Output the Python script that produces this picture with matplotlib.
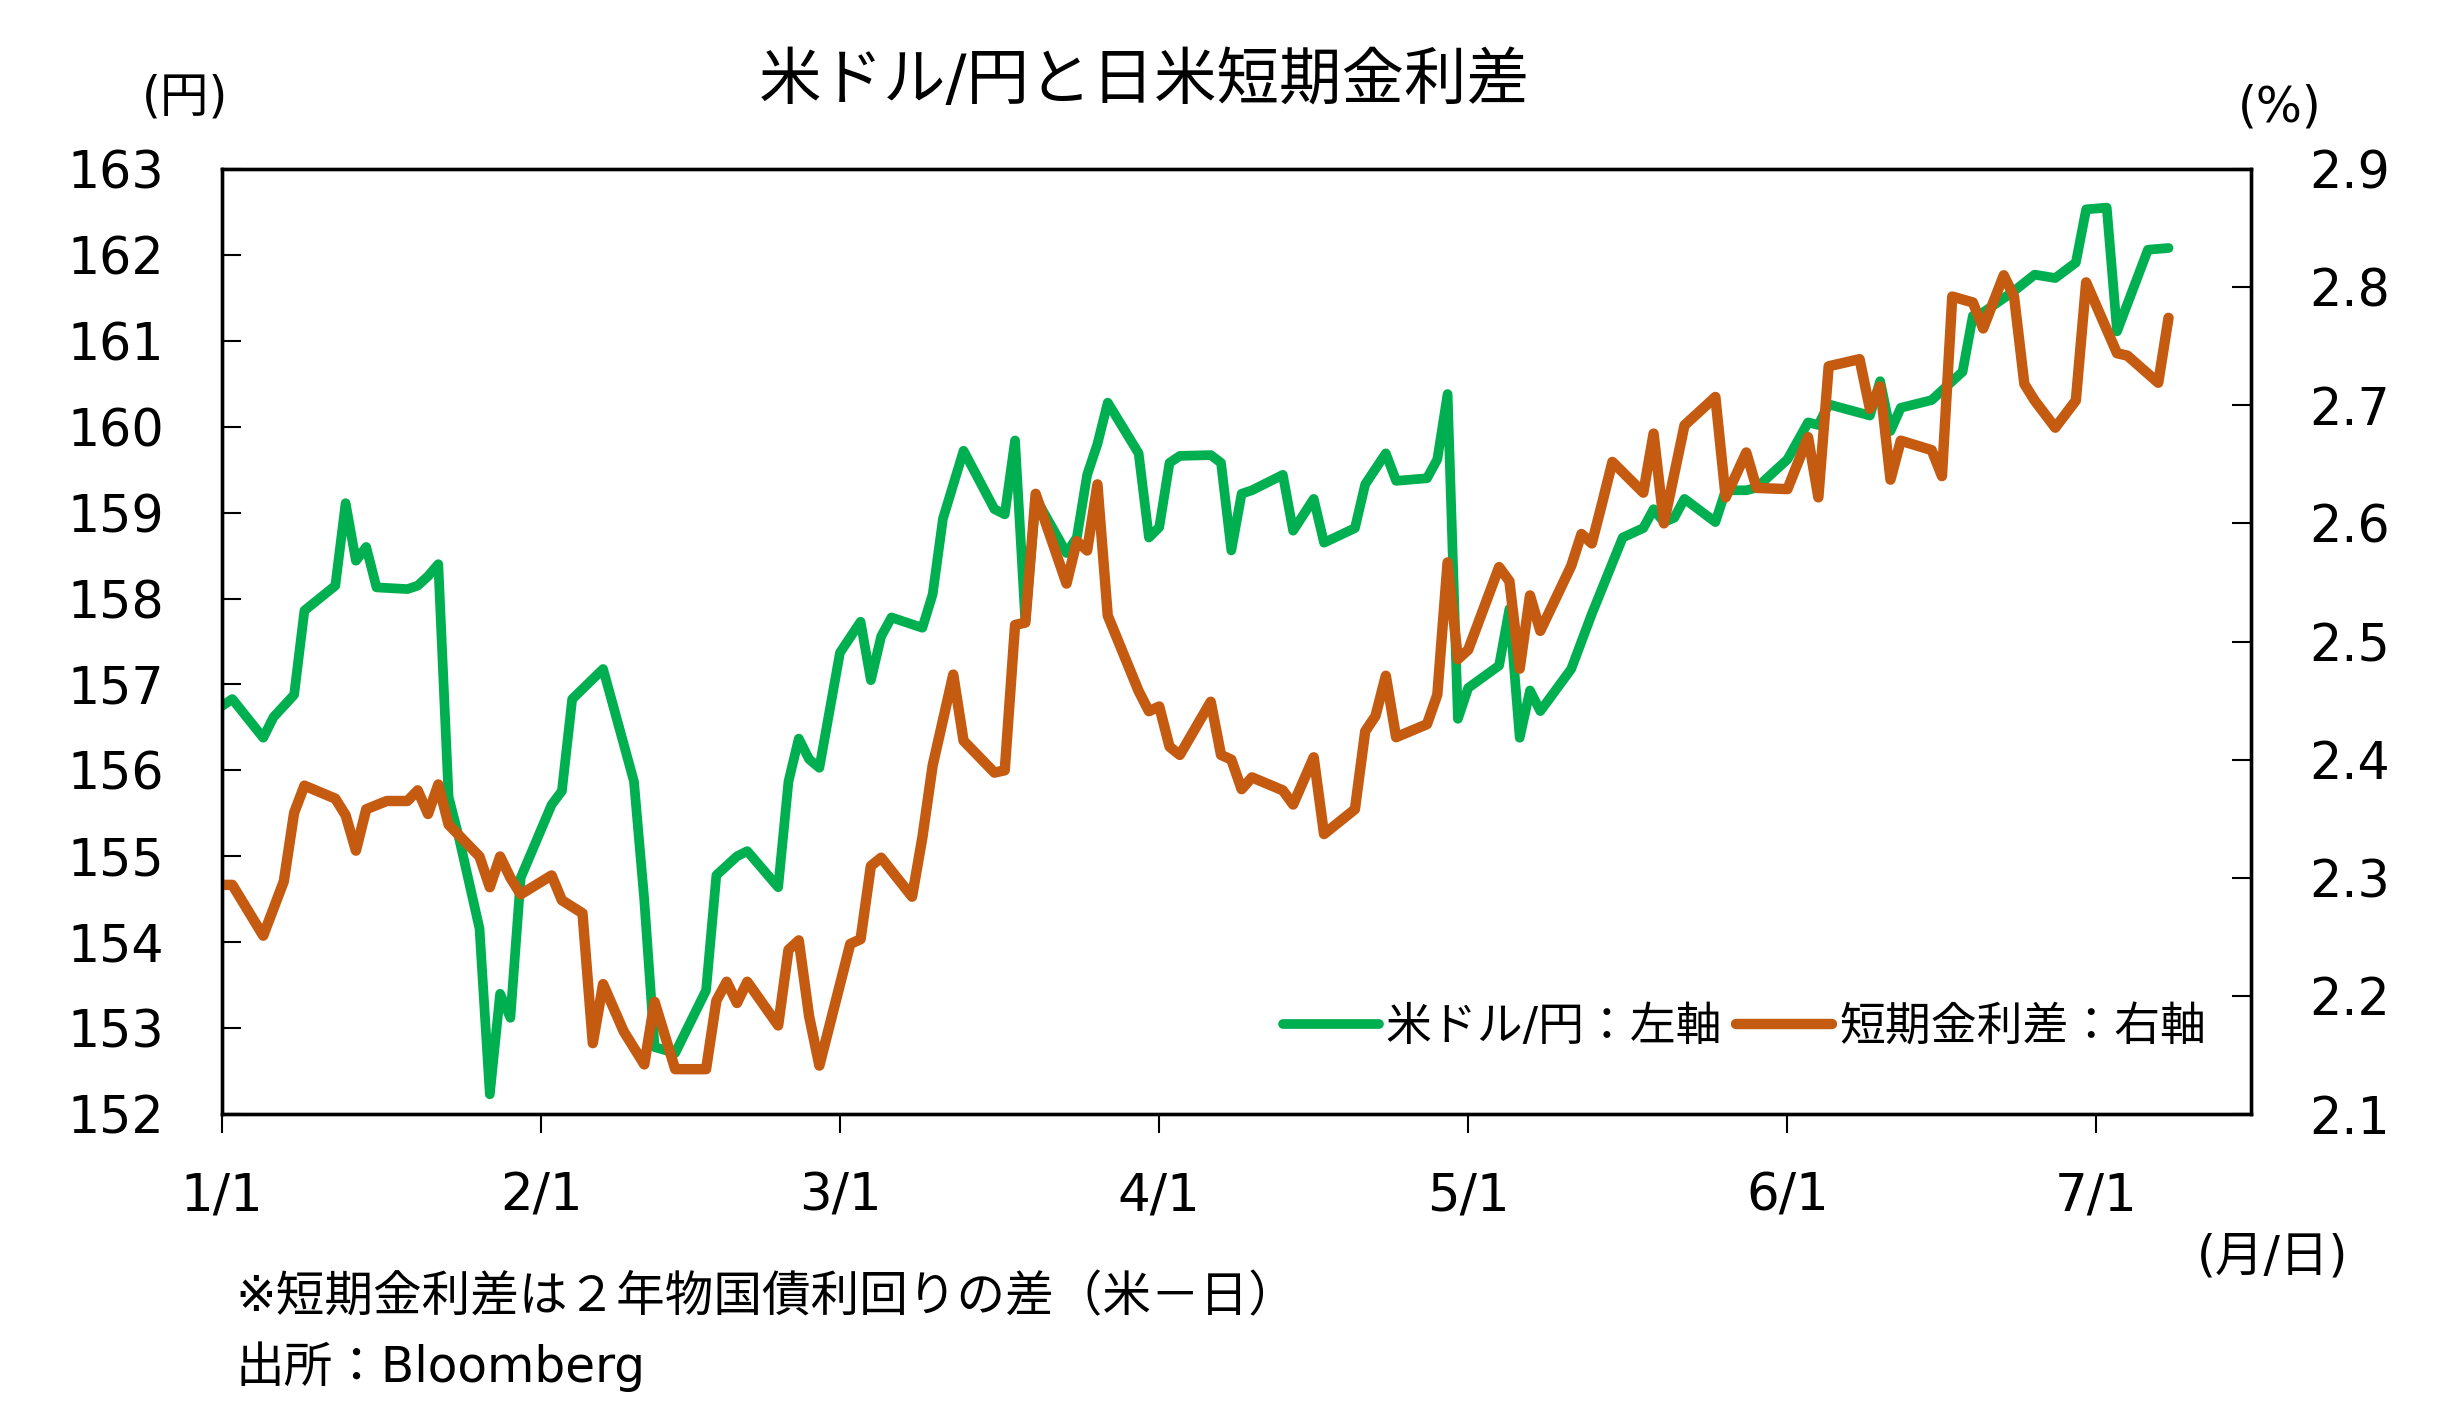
import matplotlib
matplotlib.use("Agg")
import matplotlib.pyplot as plt
import matplotlib.dates as mdates
import pandas as pd
from matplotlib.ticker import FuncFormatter, FixedLocator

# ---------------- data ----------------
usd_dates = ["01-01","01-02","01-05","01-06","01-08","01-09","01-12","01-13","01-14","01-15",
             "01-16","01-19","01-20","01-21","01-22","01-23","01-24","01-26","01-27","01-28",
             "01-29","01-30","02-02","02-03","02-04","02-07","02-10","02-11","02-12","02-14",
             "02-17","02-18","02-20","02-21","02-24","02-25","02-26","02-27","02-28","03-01",
             "03-03","03-04","03-05","03-06","03-09","03-10","03-11","03-13","03-16","03-17",
             "03-18","03-19","03-20","03-23","03-24","03-25","03-26","03-27","03-30","03-31",
             "04-01","04-02","04-03","04-06","04-07","04-08","04-09","04-10","04-13","04-14",
             "04-16","04-17","04-20","04-21","04-23","04-24","04-27","04-28","04-29","04-30",
             "05-01","05-04","05-05","05-06","05-07","05-08","05-11","05-13","05-16","05-18",
             "05-19","05-20","05-21","05-22","05-25","05-26","05-28","05-29","06-01","06-03",
             "06-04","06-05","06-09","06-10","06-11","06-12","06-15","06-16","06-18","06-19",
             "06-20","06-23","06-25","06-27","06-29","06-30","07-02","07-03","07-06","07-08"]
usd_jpy = [156.75,156.83,156.38,156.62,156.88,157.86,158.15,159.11,158.44,158.60,
           158.13,158.11,158.15,158.26,158.40,155.69,155.22,154.16,152.23,153.40,
           153.12,154.75,155.60,155.76,156.83,157.18,155.87,154.49,152.78,152.71,
           153.44,154.78,155.00,155.06,154.64,155.87,156.37,156.13,156.03,157.37,
           157.73,157.05,157.56,157.78,157.66,158.05,158.93,159.72,159.04,158.98,
           159.84,157.73,159.17,158.53,158.71,159.44,159.80,160.28,159.69,158.71,
           158.83,159.58,159.66,159.67,159.58,158.56,159.22,159.26,159.44,158.79,
           159.16,158.65,158.82,159.33,159.69,159.37,159.40,159.62,160.38,156.60,
           156.96,157.22,157.88,156.38,156.93,156.69,157.18,157.82,158.71,158.82,
           159.04,158.89,158.94,159.16,158.89,159.26,159.26,159.29,159.62,160.05,
           160.02,160.26,160.13,160.53,159.95,160.22,160.31,160.42,160.64,161.29,
           161.33,161.58,161.77,161.73,161.91,162.53,162.55,161.11,162.06,162.08]

spread_dates = ["01-01","01-02","01-05","01-07","01-08","01-09","01-12","01-13","01-14","01-15",
                "01-17","01-19","01-20","01-21","01-22","01-23","01-26","01-27","01-28","01-29",
                "01-30","02-02","02-03","02-05","02-06","02-07","02-09","02-11","02-12","02-14",
                "02-17","02-18","02-19","02-20","02-21","02-24","02-25","02-26","02-27","02-28",
                "03-02","03-03","03-04","03-05","03-06","03-08","03-09","03-10","03-12","03-13",
                "03-16","03-17","03-18","03-19","03-20","03-23","03-24","03-25","03-26","03-27",
                "03-30","03-31","04-01","04-02","04-03","04-06","04-07","04-08","04-09","04-10",
                "04-13","04-14","04-16","04-17","04-20","04-21","04-22","04-23","04-24","04-27",
                "04-28","04-29","04-30","05-01","05-04","05-05","05-06","05-07","05-08","05-11",
                "05-12","05-13","05-14","05-15","05-18","05-19","05-20","05-22","05-25","05-26",
                "05-28","05-29","06-01","06-03","06-04","06-05","06-08","06-09","06-10","06-11",
                "06-12","06-15","06-16","06-17","06-19","06-20","06-22","06-23","06-24","06-25",
                "06-27","06-29","06-30","07-03","07-04","07-07","07-08"]
spread = [2.294,2.294,2.251,2.297,2.355,2.378,2.367,2.353,2.323,2.358,
          2.365,2.365,2.374,2.354,2.379,2.345,2.318,2.292,2.318,2.300,
          2.286,2.302,2.281,2.270,2.160,2.210,2.170,2.142,2.195,2.138,
          2.138,2.196,2.212,2.194,2.212,2.175,2.239,2.247,2.183,2.141,
          2.244,2.248,2.310,2.317,2.306,2.284,2.334,2.395,2.472,2.416,
          2.389,2.391,2.514,2.516,2.625,2.549,2.585,2.577,2.633,2.522,
          2.458,2.441,2.445,2.411,2.404,2.449,2.404,2.400,2.375,2.385,
          2.374,2.362,2.402,2.337,2.358,2.424,2.437,2.471,2.419,2.430,
          2.455,2.567,2.485,2.493,2.563,2.551,2.477,2.539,2.509,2.564,
          2.591,2.583,2.617,2.652,2.626,2.676,2.600,2.683,2.707,2.622,
          2.660,2.630,2.629,2.673,2.622,2.733,2.739,2.697,2.716,2.637,
          2.670,2.662,2.640,2.792,2.787,2.765,2.810,2.792,2.718,2.704,
          2.681,2.704,2.804,2.744,2.742,2.719,2.774]

left_ticks = [152, 153, 154, 155, 156, 157, 158, 159, 160, 161, 162, 163]
right_ticks = [2.1, 2.2, 2.3, 2.4, 2.5, 2.6, 2.7, 2.8, 2.9]
year = "2024"
x_start, x_end = "2024-01-01", "2024-07-16"

title = "米ドル/円と日米短期金利差"
label_usd = "米ドル/円：左軸"
label_spread = "短期金利差：右軸"
note1 = "※短期金利差は２年物国債利回りの差（米－日）"
note2 = "出所：Bloomberg"

# ---------------- plot ----------------
plt.rcParams["font.family"] = ["DejaVu Sans", "Noto Sans CJK JP"]

GREEN = "#00B050"
ORANGE = "#C55A11"

fig = plt.figure(figsize=(24.56, 14.27), dpi=100)
ax1 = fig.add_axes([0.0904, 0.2193, 0.8261, 0.6623])
ax2 = ax1.twinx()

xg = pd.to_datetime([year + "-" + d for d in usd_dates])
xo = pd.to_datetime([year + "-" + d for d in spread_dates])

l1, = ax1.plot(xg, usd_jpy, color=GREEN, lw=7, solid_joinstyle="round",
               solid_capstyle="round", label=label_usd)
l2, = ax2.plot(xo, spread, color=ORANGE, lw=7.5, solid_joinstyle="round",
               solid_capstyle="round", label=label_spread)

ax1.set_xlim(pd.Timestamp(x_start), pd.Timestamp(x_end))
ax1.set_ylim(left_ticks[0], left_ticks[-1])
ax2.set_ylim(right_ticks[0], right_ticks[-1])
ax1.yaxis.set_major_locator(FixedLocator(left_ticks))
ax2.yaxis.set_major_locator(FixedLocator(right_ticks))
ax2.yaxis.set_major_formatter(FuncFormatter(lambda v, p: f"{v:.1f}"))

ax1.xaxis.set_major_locator(mdates.MonthLocator())
def md(v, p):
    d = mdates.num2date(v)
    return f"{d.month}/{d.day}"
ax1.xaxis.set_major_formatter(FuncFormatter(md))

ax1.tick_params(axis="y", direction="in", length=14, width=1.5, labelsize=36.5, pad=42)
ax2.tick_params(axis="y", direction="in", length=14, width=1.5, labelsize=36.5, pad=42)
ax1.tick_params(axis="x", direction="out", length=14, width=1.5, labelsize=37, pad=27)

for ax in (ax1, ax2):
    for s in ax.spines.values():
        s.set_linewidth(2.4)
        s.set_color("black")

ax2.legend([l1, l2], [label_usd, label_spread], loc="center right",
           bbox_to_anchor=(0.978, 0.092), ncol=2, frameon=False, fontsize=33,
           handlelength=2.1, handletextpad=0.15, columnspacing=0.3,
           borderaxespad=0, borderpad=0)

fig.text(0.466, 0.9425, title, fontsize=45, ha="center", va="center")
fig.text(0.0753, 0.9315, "(円)", fontsize=35, ha="center", va="center")
fig.text(0.9283, 0.9245, "(%)", fontsize=35, ha="center", va="center")
fig.text(0.9255, 0.1195, "(月/日)", fontsize=35, ha="center", va="center")
fig.text(0.0957, 0.0911, note1, fontsize=35, ha="left", va="center")
fig.text(0.0957, 0.042, note2, fontsize=35, ha="left", va="center")

fig.savefig("out.png", dpi=100, facecolor="white")
